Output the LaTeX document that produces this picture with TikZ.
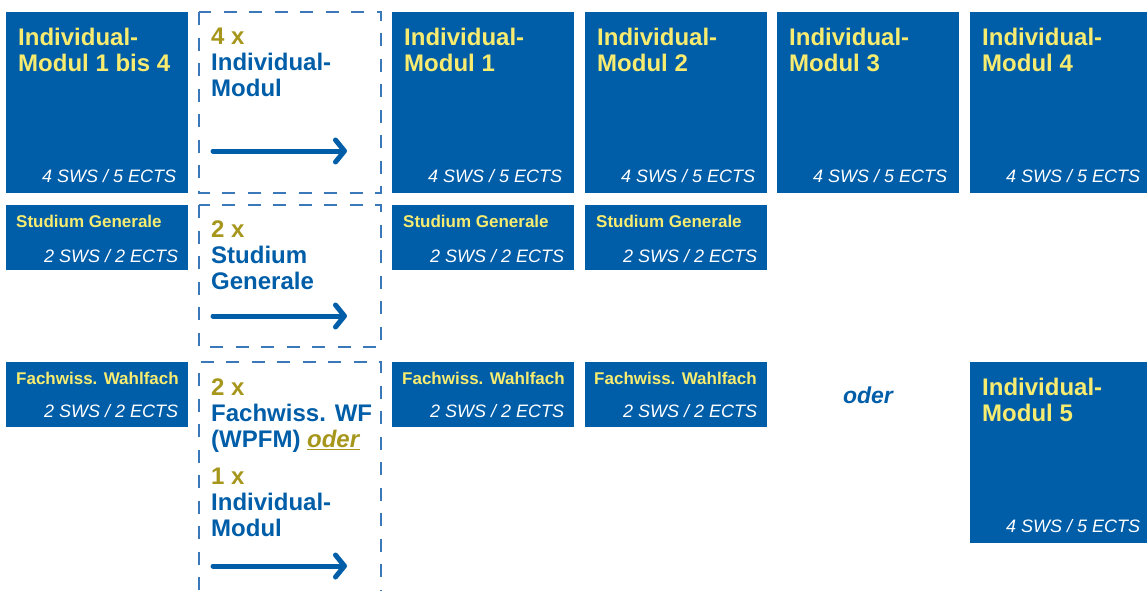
\documentclass[tikz,border=0pt]{standalone}
\usepackage{fontspec}
\setmainfont{Liberation Sans}
\usetikzlibrary{arrows.meta,positioning,calc}
\definecolor{hsblue}{RGB}{0,93,168}
\definecolor{hsyellow}{RGB}{247,236,112}
\definecolor{hsolive}{RGB}{166,150,28}
\definecolor{dashblue}{RGB}{58,120,186}

\begin{document}
\begin{tikzpicture}[
            x=1pt, y=-1pt,
            >={Straight Barb[length=9pt,width=22pt,round]},
            modbox/.style={fill=hsblue, anchor=north west, inner sep=0pt, minimum width=182pt},
            tallbox/.style={modbox, minimum height=181pt},
            flatbox/.style={modbox, minimum height=65pt},
            countframe/.style={draw=dashblue, line width=1.3pt, dash pattern=on 13pt off 12.5pt},
            bigtitle/.style={font=\bfseries\fontsize{24}{26}\selectfont, text=hsyellow, align=left, inner sep=0pt},
            smalltitle/.style={font=\bfseries\fontsize{17}{19}\selectfont, text=hsyellow, inner sep=0pt},
            credits/.style={font=\itshape\fontsize{18}{20}\selectfont, text=white, anchor=base east, inner sep=0pt},
            counttext/.style={font=\bfseries\fontsize{24}{26}\selectfont, text=hsblue, align=left, inner sep=0pt, anchor=north west},
            flow/.style={->, draw=hsblue, line width=5pt, line cap=round}
        ]
            \useasboundingbox (0,0) rectangle (1147,590);

            \node[tallbox] (imA) at (6,12) {};
            \node[tallbox] (im1) at (392,12) {};
            \node[tallbox] (im2) at (585,12) {};
            \node[tallbox] (im3) at (777,12) {};
            \node[tallbox, minimum width=177pt] (im4) at (970,12) {};

            \node[flatbox] (sgA) at (6,205) {};
            \node[flatbox] (sg1) at (392,205) {};
            \node[flatbox] (sg2) at (585,205) {};

            \node[flatbox] (fwA) at (6,362) {};
            \node[flatbox] (fw1) at (392,362) {};
            \node[flatbox] (fw2) at (585,362) {};
            \node[font=\bfseries\itshape\fontsize{23}{25}\selectfont, text=hsblue] (alt) at (868,395) {oder};
            \node[tallbox, minimum width=177pt] (im5) at (970,362) {};

            \draw[countframe] (199,12) rectangle (381,193);
            \draw[countframe] (199,205) rectangle (381,347);
            \draw[countframe] (199,590) |- (381,362) -- (381,590);

            \node[bigtitle, below right=16pt and 12pt of imA.north west] {Individual-\\Modul 1 bis 4};
            \node[bigtitle, below right=16pt and 12pt of im1.north west] {Individual-\\Modul 1};
            \node[bigtitle, below right=16pt and 12pt of im2.north west] {Individual-\\Modul 2};
            \node[bigtitle, below right=16pt and 12pt of im3.north west] {Individual-\\Modul 3};
            \node[bigtitle, below right=16pt and 12pt of im4.north west] {Individual-\\Modul 4};
            \node[bigtitle, below right=16pt and 12pt of im5.north west] {Individual-\\Modul 5};

            \node[smalltitle, below right=10pt and 10pt of sgA.north west] {Studium Generale};
            \node[smalltitle, below right=10pt and 11pt of sg1.north west] {Studium Generale};
            \node[smalltitle, below right=10pt and 11pt of sg2.north west] {Studium Generale};
            \node[smalltitle, below right=10pt and 10pt of fwA.north west] {Fachwiss. Wahlfach};
            \node[smalltitle, below right=10pt and 10pt of fw1.north west] {Fachwiss. Wahlfach};
            \node[smalltitle, below right=10pt and 9pt of fw2.north west] {Fachwiss. Wahlfach};

            \node[credits] at ([shift={(-12,-11)}]imA.south east) {4 SWS / 5 ECTS};
            \node[credits] at ([shift={(-12,-11)}]im1.south east) {4 SWS / 5 ECTS};
            \node[credits] at ([shift={(-12,-11)}]im2.south east) {4 SWS / 5 ECTS};
            \node[credits] at ([shift={(-12,-11)}]im3.south east) {4 SWS / 5 ECTS};
            \node[credits] at ([shift={(-7,-11)}]im4.south east) {4 SWS / 5 ECTS};
            \node[credits] at ([shift={(-7,-11)}]im5.south east) {4 SWS / 5 ECTS};
            \node[credits] at ([shift={(-10,-8)}]sgA.south east) {2 SWS / 2 ECTS};
            \node[credits] at ([shift={(-10,-8)}]sg1.south east) {2 SWS / 2 ECTS};
            \node[credits] at ([shift={(-10,-8)}]sg2.south east) {2 SWS / 2 ECTS};
            \node[credits] at ([shift={(-10,-10)}]fwA.south east) {2 SWS / 2 ECTS};
            \node[credits] at ([shift={(-10,-10)}]fw1.south east) {2 SWS / 2 ECTS};
            \node[credits] at ([shift={(-10,-10)}]fw2.south east) {2 SWS / 2 ECTS};

            \node[counttext] (cnt1txt) at (211,28) {\textcolor{hsolive}{4 x}\\Individual-\\Modul};
            \node[counttext] (cnt2txt) at (211,221) {\textcolor{hsolive}{2 x}\\Studium\\Generale};
            \node[counttext] (cnt3txt) at (211,379) {\textcolor{hsolive}{2 x}\\Fachwiss. WF\\(WPFM) \textcolor{hsolive}{\underline{\textit{oder}}}\\[11pt]\textcolor{hsolive}{1 x}\\Individual-\\Modul};

            \coordinate (go1s) at (213,151);
            \coordinate (go1e) at (347,151);
            \coordinate (go2s) at (213,316);
            \coordinate (go2e) at (347,316);
            \coordinate (go3s) at (213,566);
            \coordinate (go3e) at (347,566);

            \draw[flow] (go1s) -- (go1e);
            \draw[flow] (go2s) -- (go2e);
            \draw[flow] (go3s) -- (go3e);
        \end{tikzpicture}
\end{document}
